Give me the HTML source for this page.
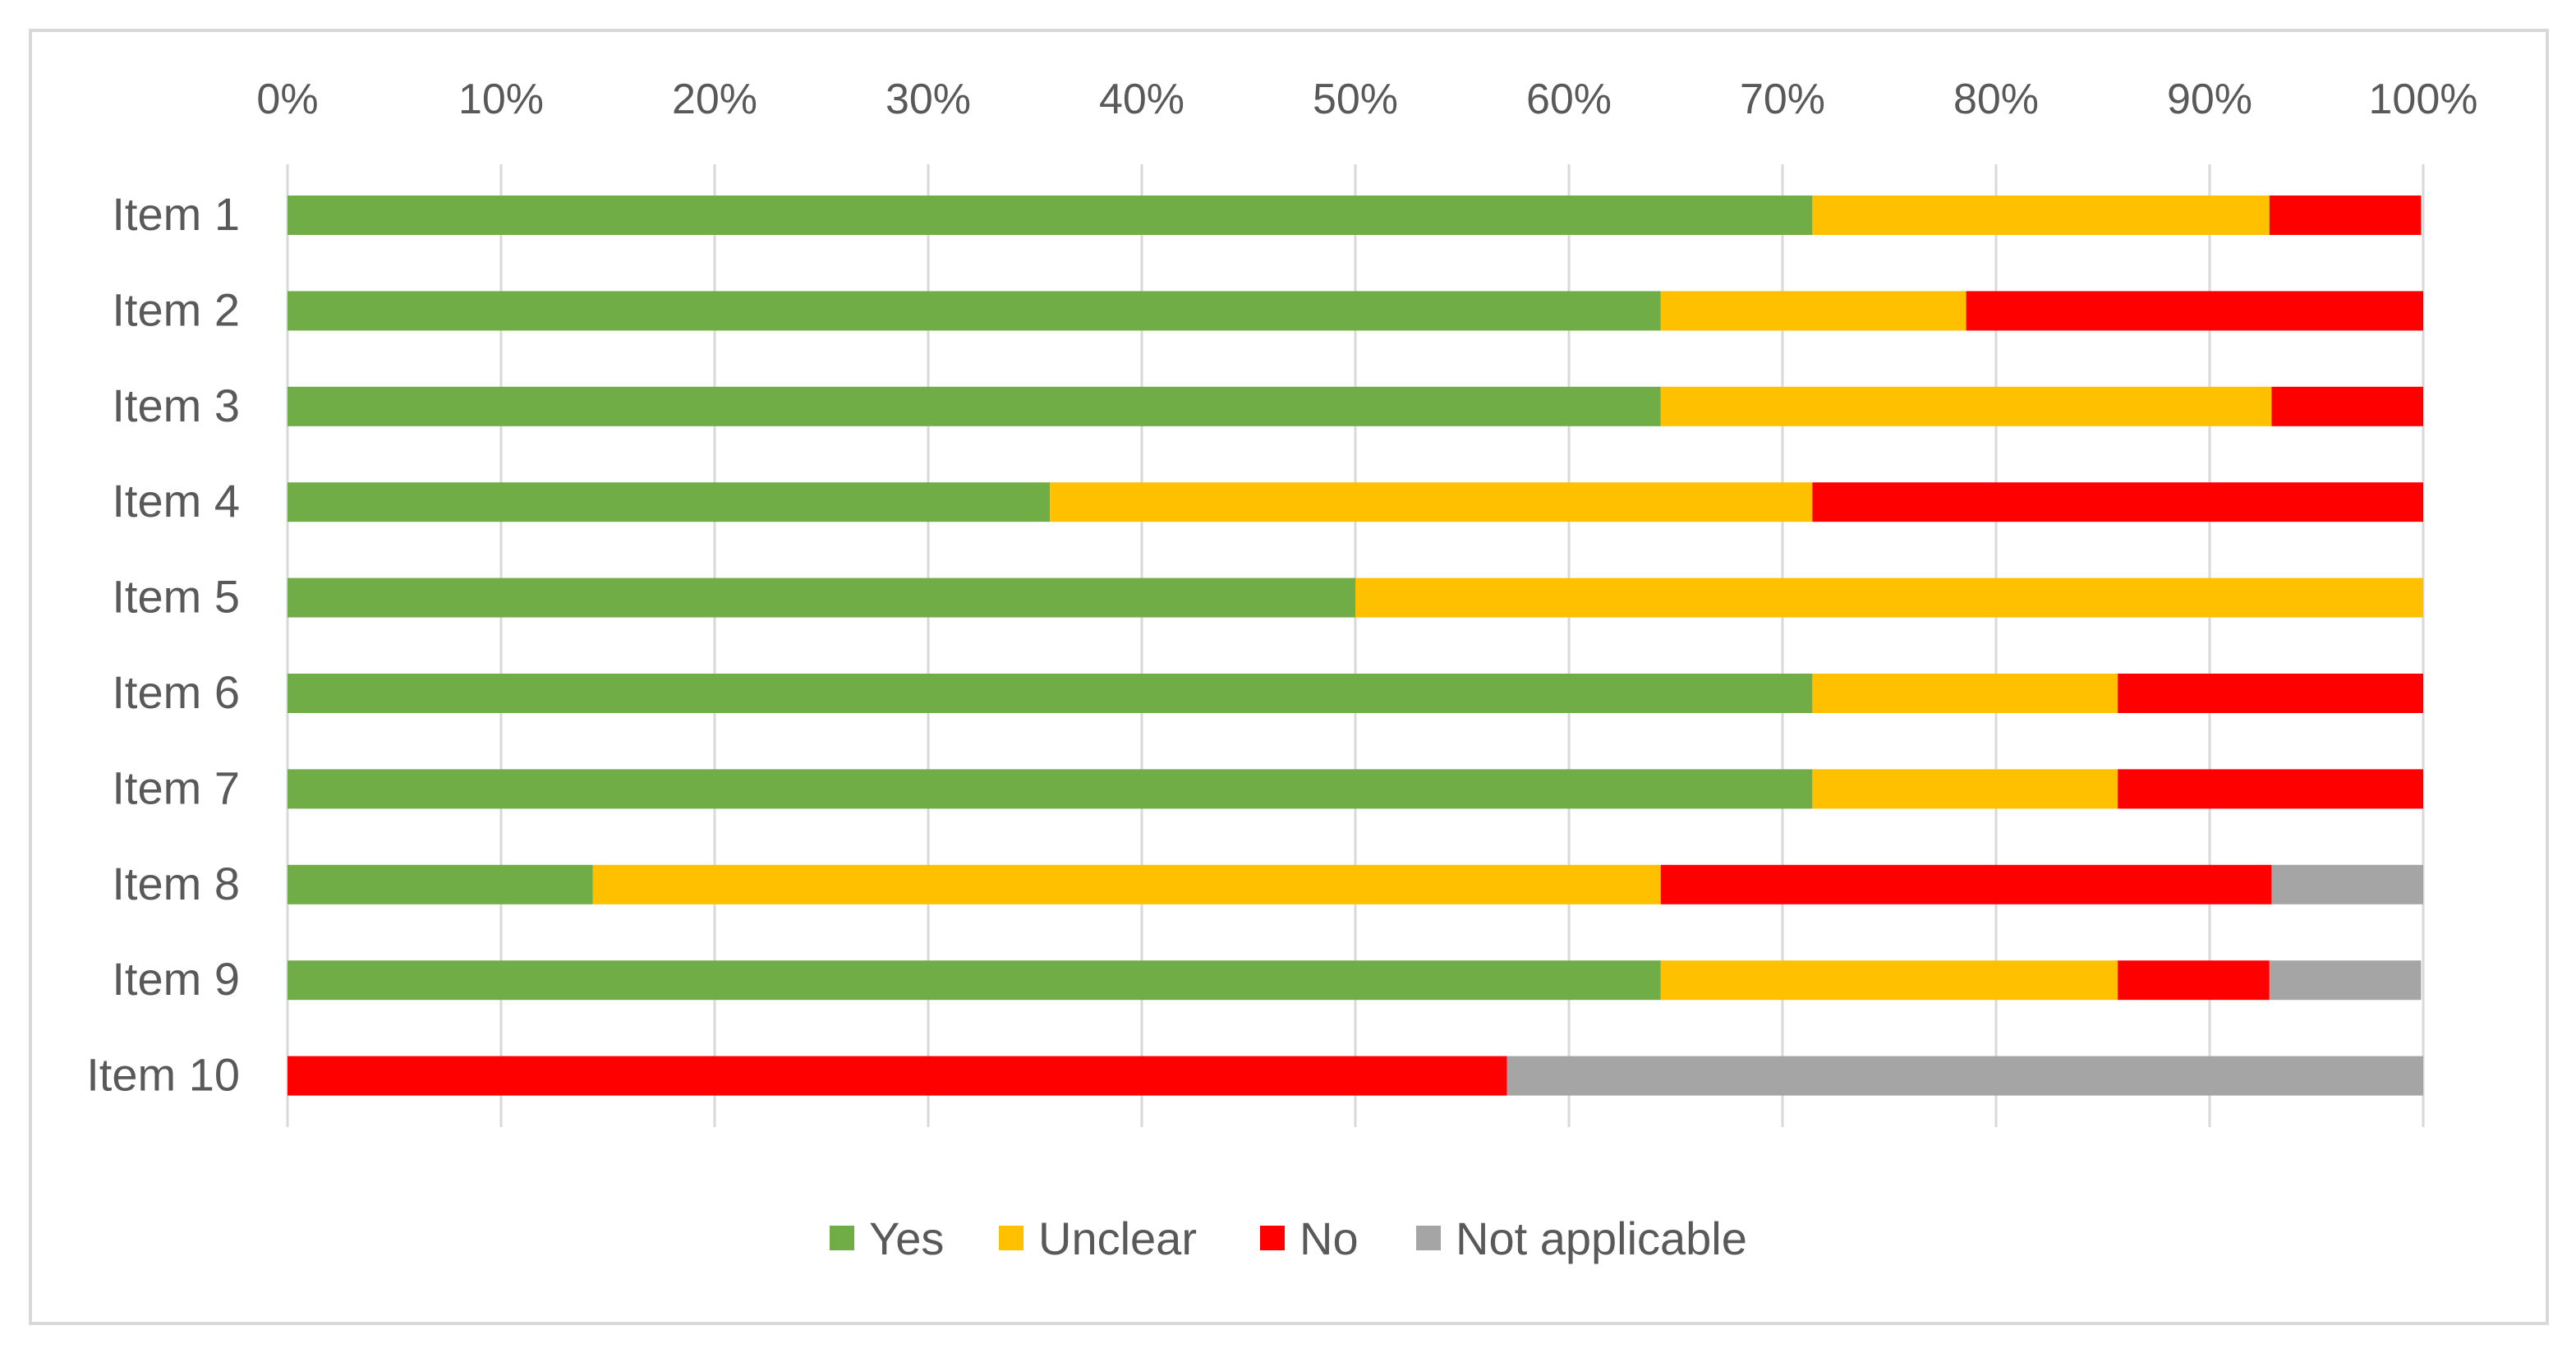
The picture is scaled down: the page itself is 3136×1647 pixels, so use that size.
<!DOCTYPE html>
<html><head><meta charset="utf-8"><style>
html,body{margin:0;padding:0;background:#fff;}
svg{display:block;font-family:"Liberation Sans",sans-serif;}
</style></head><body>
<svg id="chart" width="3136" height="1647" viewBox="0 0 3136 1647" xmlns="http://www.w3.org/2000/svg">
<rect x="37" y="37" width="3064" height="1574" fill="#fff" stroke="#d9d9d9" stroke-width="4"/>
<g id="grid"></g><g id="bars"></g><g id="labels"></g><g id="legend"></g>
</svg>
<script>
const categories=["Item 1","Item 2","Item 3","Item 4","Item 5","Item 6","Item 7","Item 8","Item 9","Item 10"];
const seriesNames=["Yes","Unclear","No","Not applicable"];
const yesVals=[71.4,64.3,64.3,35.7,50,71.4,71.4,14.3,64.3,0];
const unclearVals=[21.4,14.3,28.6,35.7,50,14.3,14.3,50,21.4,0];
const noVals=[7.1,21.4,7.1,28.6,0,14.3,14.3,28.6,7.1,57.1];
const naVals=[0,0,0,0,0,0,0,7.1,7.1,42.9];
const tickVals=[0,10,20,30,40,50,60,70,80,90,100];
const colors=["#70ad47","#ffc000","#ff0000","#a5a5a5"];
const NS="http://www.w3.org/2000/svg";
const x0=350,x1=2950,yTop=200,yBot=1372,rowStart=262,rowStep=116.4,barH=48;
const xs=v=>x0+(x1-x0)*v/100;
const ys=i=>rowStart+i*rowStep;
function mk(tag,attrs,parent){const e=document.createElementNS(NS,tag);for(const k in attrs)e.setAttribute(k,attrs[k]);parent.appendChild(e);return e;}
const grid=document.getElementById('grid'),bars=document.getElementById('bars'),labels=document.getElementById('labels'),legend=document.getElementById('legend');
tickVals.forEach(t=>{
 const l=mk('line',{x1:xs(t),x2:xs(t),y1:yTop,y2:yBot,stroke:'#d9d9d9','stroke-width':3},grid);
 
 
 const tx=mk('text',{x:xs(t),y:138,'text-anchor':'middle','font-size':52,fill:'#595959'},labels);
 tx.textContent=t+'%';
 
 
});
const series=[yesVals,unclearVals,noVals,naVals];
categories.forEach((c,i)=>{
 let acc=0;
 series.forEach((s,k)=>{
  const v=s[i];
  if(v>0){
   const r=mk('rect',{x:xs(acc),y:ys(i)-barH/2,width:xs(acc+v)-xs(acc),height:barH,fill:colors[k]},bars);
   
   
  }
  acc+=v;
 });
 const t=mk('text',{x:292,y:ys(i)+18,'text-anchor':'end','font-size':56,fill:'#595959'},labels);
 t.textContent=c;
 
 
});
const legX=[1010,1216,1534,1724];
seriesNames.forEach((n,k)=>{
 const r=mk('rect',{x:legX[k],y:1492,width:30,height:30,fill:colors[k]},legend);
 
 
 const t=mk('text',{x:legX[k]+48,y:1527,'font-size':56,fill:'#595959'},legend);
 t.textContent=n;
 
 
});
</script>
</body></html>
